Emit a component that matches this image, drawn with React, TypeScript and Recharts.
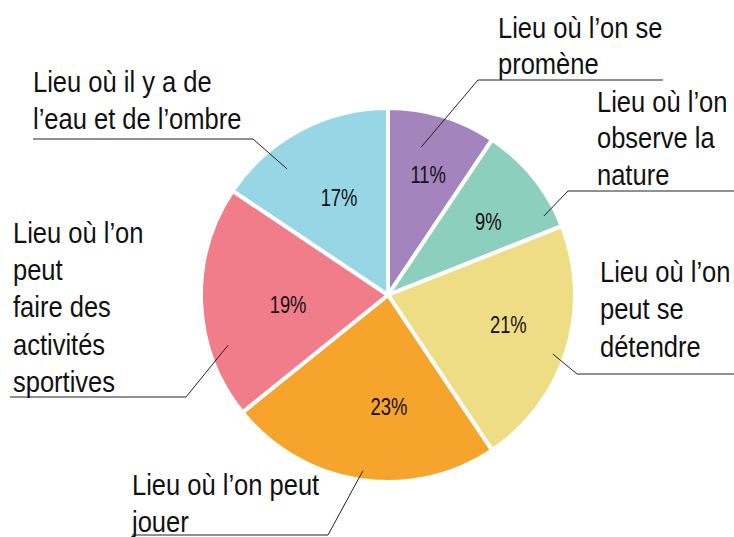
import React from 'react';
import { PieChart, Pie, Cell } from 'recharts';

// categories, clockwise from 12 o'clock
const categories = [
  'Lieu où l’on se promène',
  'Lieu où l’on observe la nature',
  'Lieu où l’on peut se détendre',
  'Lieu où l’on peut jouer',
  'Lieu où l’on peut faire des activités sportives',
  'Lieu où il y a de l’eau et de l’ombre',
];

// wrapped label text, as in the picture
const labelLines = [
  ['Lieu où l’on se', 'promène'],
  ['Lieu où l’on', 'observe la', 'nature'],
  ['Lieu où l’on', 'peut se', 'détendre'],
  ['Lieu où l’on peut', 'jouer'],
  ['Lieu où l’on', 'peut', 'faire des', 'activités', 'sportives'],
  ['Lieu où il y a de', 'l’eau et de l’ombre'],
];

// slice sizes as drawn (measured from the wedges)
const sliceSizes = [9.4, 9.6, 21.6, 23.6, 20.2, 15.6];

// percentages printed on the slices
const printedPct = [11, 9, 21, 23, 19, 17];

const colors = ['#A384BC', '#8DCFBD', '#EFDD86', '#F7A42C', '#F17D8A', '#97D6E5'];

const data = categories.map((name, i) => ({ name, value: sliceSizes[i], pct: printedPct[i] }));

// label layout (angles in degrees relative to slice mid angle, radii as fraction of outer radius)
const pctPos = [
  { da: -1.5, r: 0.68 },
  { da: -2.9, r: 0.663 },
  { da: 3.3, r: 0.663 },
  { da: 9.1, r: 0.6 },
  { da: 3.2, r: 0.537 },
  { da: -1.4, r: 0.583 },
];

const callouts = [
  { da: 4.3, r: 0.81, elbow: [478, 80], end: 663, text: [498, 38], gap: 36.3 },
  { da: -12, r: 0.935, elbow: [568, 191], end: 734, text: [597, 112], gap: 36.5 },
  { da: -2.4, r: 0.936, elbow: [577, 374], end: 734, text: [600, 282], gap: 37.3 },
  { da: 0.5, r: 0.95, elbow: [328, 535], end: 132, text: [132, 495], gap: 37 },
  { da: 14.9, r: 0.896, elbow: [186, 397], end: 10, text: [13, 243], gap: 37.25 },
  { da: 10.6, r: 0.864, elbow: [253, 139], end: 33, text: [33, 92], gap: 36.7 },
];

const RAD = Math.PI / 180;
const FONT = '"Liberation Sans", Arial, sans-serif';

const renderLabel = (props: any) => {
  const { cx, cy, midAngle, outerRadius, index } = props;
  const p = pctPos[index];
  const a1 = (midAngle + p.da) * RAD;
  const px = cx + outerRadius * p.r * Math.cos(a1);
  const py = cy - outerRadius * p.r * Math.sin(a1);

  const c = callouts[index];
  const a2 = (midAngle + c.da) * RAD;
  const sx = cx + outerRadius * c.r * Math.cos(a2);
  const sy = cy - outerRadius * c.r * Math.sin(a2);

  return (
    <g>
      <text
        transform={`translate(${px},${py}) scale(0.8,1)`}
        textAnchor="middle"
        dy="0.36em"
        fontSize={23}
        fontFamily={FONT}
        fill="#111"
      >
        {data[index].pct}%
      </text>
      <polyline
        points={`${sx},${sy} ${c.elbow[0]},${c.elbow[1]} ${c.end},${c.elbow[1]}`}
        fill="none"
        stroke="#222"
        strokeWidth={1}
      />
      <text
        transform={`translate(${c.text[0]},${c.text[1]}) scale(0.88,1)`}
        fontSize={29}
        fontFamily={FONT}
        fill="#111"
      >
        {labelLines[index].map((l, i) => (
          <tspan key={i} x={0} y={i * c.gap}>
            {l}
          </tspan>
        ))}
      </text>
    </g>
  );
};

export default function App() {
  return (
    <div style={{ position: 'absolute', left: 0, top: 0, background: '#fff' }}>
      <PieChart width={734} height={537} margin={{ top: 0, right: 0, bottom: 0, left: 0 }}>
        <Pie
          data={data}
          dataKey="value"
          nameKey="name"
          cx={388}
          cy={295}
          outerRadius={187}
          startAngle={90}
          endAngle={-270}
          stroke="#fff"
          strokeWidth={4}
          label={renderLabel}
          labelLine={false}
          isAnimationActive={false}
        >
          {data.map((d, i) => (
            <Cell key={d.name} fill={colors[i]} />
          ))}
        </Pie>
      </PieChart>
    </div>
  );
}
